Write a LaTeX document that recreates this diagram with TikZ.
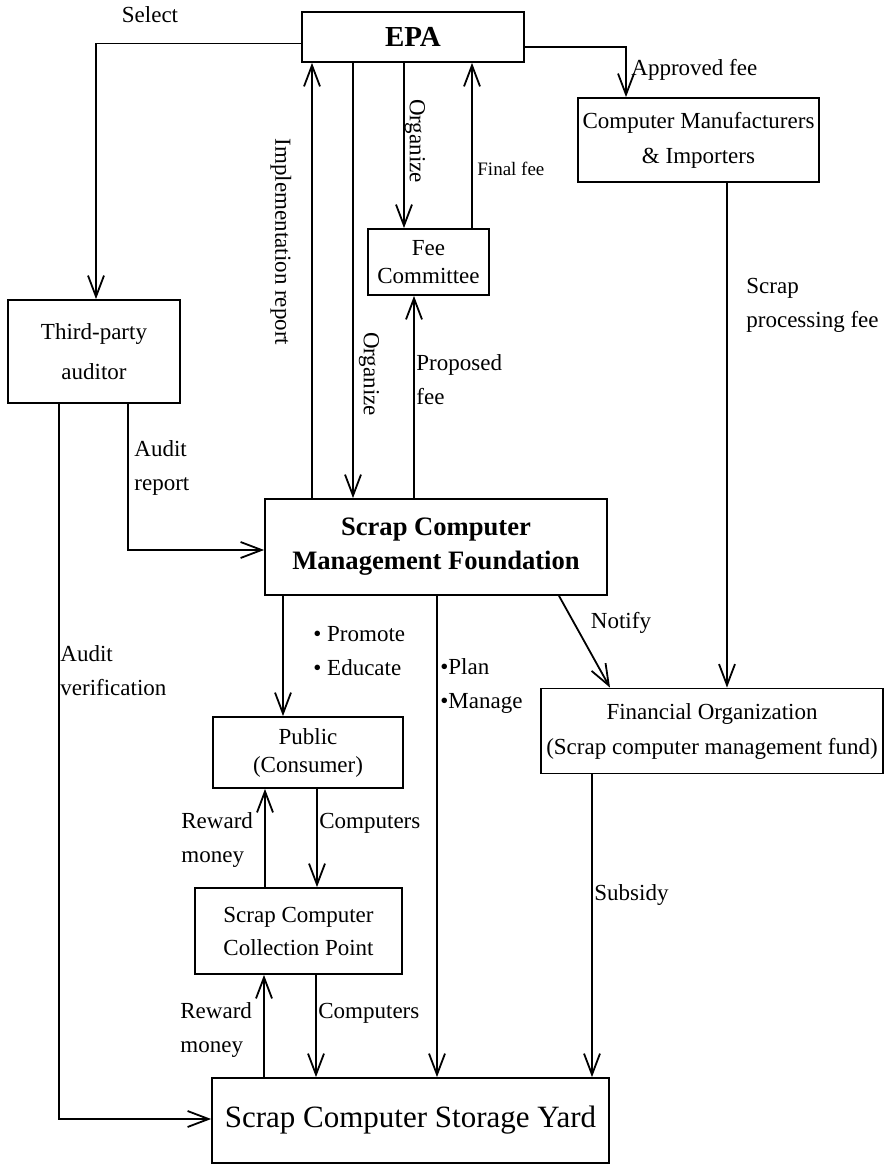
\documentclass[tikz,border=0pt]{standalone}
\usepackage{fontspec}
\setmainfont{Liberation Serif}
\usetikzlibrary{arrows.meta}

\newcommand{\txtfont}{\fontsize{11.5}{17}\selectfont}
\newcommand{\smallfont}{\fontsize{9.5}{12}\selectfont}

\tikzset{
  box/.style={draw, line width=0.9pt, inner sep=0pt, align=center, font=\txtfont},
  lbl/.style={inner sep=0pt, align=left, anchor=west, font=\txtfont},
  link/.style={line width=0.9pt},
  arr/.style={line width=0.9pt, -{Straight Barb[length=10.5pt,width=8pt]}},
}

\begin{document}
\begin{tikzpicture}[x=0.5pt, y=-0.5pt]
  \useasboundingbox (0,0) rectangle (885,1165);
  %
  % boxes
  \node[box, minimum width=111pt, minimum height=25pt, font=\fontsize{14.5}{17}\selectfont\bfseries] at (413,37) (epa) {EPA};
  \node[box, minimum width=120.5pt, minimum height=42pt, font=\fontsize{11.5}{17.5}\selectfont] at (698.5,140) (cmi) {Computer Manufacturers\\\& Importers};
  \node[box, minimum width=60.5pt, minimum height=33pt, font=\fontsize{11.5}{14}\selectfont] at (428.5,262) (fee) {Fee\\Committee};
  \node[box, minimum width=86pt, minimum height=51.5pt, font=\fontsize{11.5}{20}\selectfont] at (94,351.5) (tpa) {Third-party\\auditor};
  \node[box, minimum width=171pt, minimum height=48pt, font=\fontsize{13.3}{17}\selectfont\bfseries] at (436,547) (scmf) {Scrap Computer\\Management Foundation};
  \node[box, minimum width=171pt, minimum height=42.5pt, font=\fontsize{11.5}{17.5}\selectfont] at (712,731) (fin) {Financial Organization\\(Scrap computer management fund)};
  \node[box, minimum width=95pt, minimum height=35.5pt, font=\fontsize{11.5}{14}\selectfont] at (308,752.5) (pub) {Public\\(Consumer)};
  \node[box, minimum width=103.5pt, minimum height=43pt, font=\fontsize{11.5}{16.5}\selectfont] at (298.5,931) (col) {Scrap Computer\\Collection Point};
  \node[box, minimum width=198.5pt, minimum height=42.5pt, font=\fontsize{15.5}{18}\selectfont] at (410.5,1120.5) (yard) {Scrap Computer Storage Yard};
  %
  % EPA links
  \draw[arr] ([yshift=-3.25pt]epa.west) -| ([xshift=1pt]tpa.north);
  \draw[arr] ([yshift=-5pt]epa.east) -| ([xshift=-36.25pt]cmi.north);
  \draw[arr] ([xshift=-4.5pt]epa.south) -- ([xshift=-12.25pt]fee.north);
  \draw[arr] ([xshift=21.75pt]fee.north) -- ([xshift=29.5pt]epa.south);
  \draw[arr] ([xshift=-62pt]scmf.north) -- ([xshift=-50.5pt]epa.south);
  \draw[arr] ([xshift=-30pt]epa.south) -- ([xshift=-41.5pt]scmf.north);
  \draw[arr] ([xshift=-11pt]scmf.north) -- ([xshift=-7.25pt]fee.south);
  \draw[arr] ([xshift=14.25pt]cmi.south) -- ([xshift=7.5pt]fin.north);
  %
  % auditor links
  \draw[arr] ([xshift=17pt]tpa.south) |- ([yshift=-1.5pt]scmf.west);
  \draw[arr] ([xshift=-17.5pt]tpa.south) |- ([yshift=0.75pt]yard.west);
  %
  % foundation links
  \draw[arr] ([xshift=-76.5pt]scmf.south) -- ([xshift=-12.5pt]pub.north);
  \draw[arr] ([xshift=0.5pt]scmf.south) -- ([xshift=13.25pt]yard.north);
  \draw[arr] ([xshift=61.5pt]scmf.south) -- ([xshift=-51pt]fin.north);
  %
  % collection loop
  \draw[arr] ([xshift=-16.75pt]col.north) -- ([xshift=-21.5pt]pub.south);
  \draw[arr] ([xshift=4.5pt]pub.south) -- ([xshift=9.25pt]col.north);
  \draw[arr] ([xshift=-73.25pt]yard.north) -- ([xshift=-17.25pt]col.south);
  \draw[arr] ([xshift=8.75pt]col.south) -- ([xshift=-47.25pt]yard.north);
  \draw[arr] ([xshift=-60pt]fin.south) -- ([xshift=90.75pt]yard.north);
  %
  % labels
  \node[lbl, anchor=center] at (150,15) (lselect) {Select};
  \node[lbl] at (631,70) (lapproved) {Approved fee};
  \node[lbl, font=\smallfont] at (477,169) (lfinal) {Final fee};
  \node[lbl, anchor=center, rotate=-90] at (415,141) (lorg1) {Organize};
  \node[lbl, anchor=center, rotate=-90] at (281,242) (limpl) {Implementation report};
  \node[lbl, anchor=center, rotate=-90] at (369,374) (lorg2) {Organize};
  \node[lbl] at (416,380) (lproposed) {Proposed\\fee};
  \node[lbl] at (746,305) (lprocfee) {Scrap\\processing fee};
  \node[lbl] at (134,468) (laudit) {Audit\\report};
  \node[lbl] at (60,671) (lverif) {Audit\\verification};
  \node[lbl] at (313,651) (lpromote) {• Promote\\• Educate};
  \node[lbl] at (440,686) (lplan) {•Plan\\•Manage};
  \node[lbl, anchor=center] at (621,623) (lnotify) {Notify};
  \node[lbl] at (181,840) (lreward1) {Reward\\money};
  \node[lbl] at (319,823) (lcomp1) {Computers};
  \node[lbl] at (180,1030) (lreward2) {Reward\\money};
  \node[lbl] at (318,1013) (lcomp2) {Computers};
  \node[lbl] at (594,895) (lsubsidy) {Subsidy};
\end{tikzpicture}
\end{document}
